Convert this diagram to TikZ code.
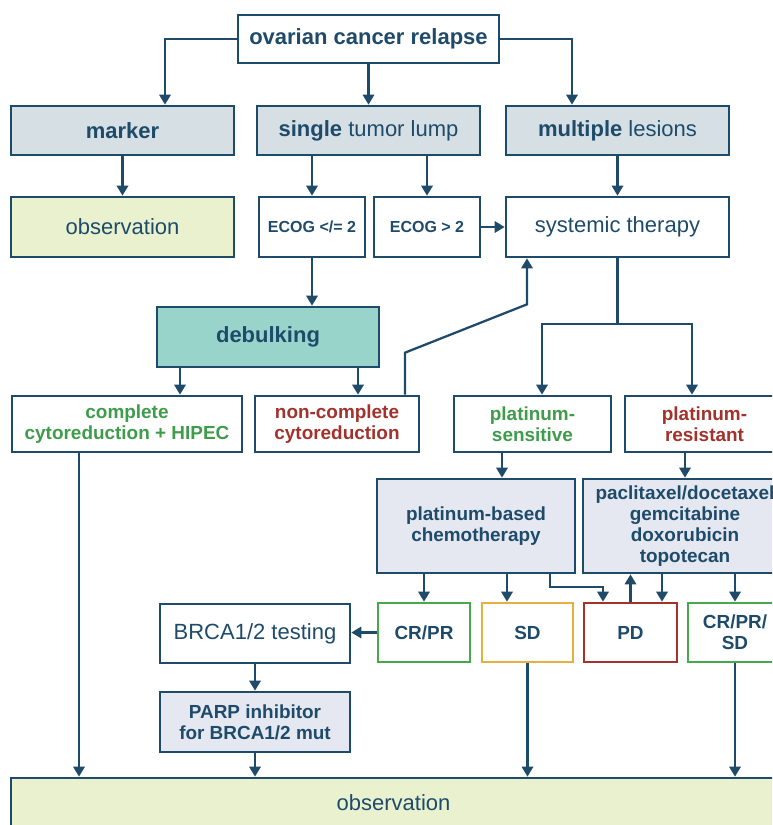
\documentclass[tikz,border=0pt]{standalone}
\usepackage{fontspec}
\setmainfont{Liberation Sans}
\usetikzlibrary{arrows.meta,calc}

\definecolor{navy}{HTML}{1F4B6B}
\definecolor{greybox}{HTML}{D5DFE4}
\definecolor{obsfill}{HTML}{EAF1CF}
\definecolor{tealbox}{HTML}{99D4CB}
\definecolor{lavbox}{HTML}{E5E8F0}
\definecolor{okgreen}{HTML}{3E9C4B}
\definecolor{okframe}{HTML}{47A94B}
\definecolor{badred}{HTML}{A3322C}
\definecolor{sdorange}{HTML}{E6AF42}

\tikzset{
  box/.style={draw=navy, line width=2pt, fill=white, text=navy, align=center, inner sep=0pt},
  wh/.style 2 args={minimum width=#1*0.75pt, minimum height=#2*0.75pt},
  big/.style={font=\fontsize{16.5}{19.8}\selectfont},
  med/.style={font=\bfseries\fontsize{14.2}{15.8}\selectfont},
  small/.style={font=\bfseries\fontsize{12}{14}\selectfont},
  line/.style={draw=navy, line width=1.7pt},
  arr/.style={line, -{Triangle[length=7.5pt,width=8.5pt]}},
}

\begin{document}
\begin{tikzpicture}[x=0.75pt, y=-0.75pt]
  \useasboundingbox (0,0) rectangle (772,825);
  \clip (0,0) rectangle (772,825);

  % first levels
  \node[box, wh={261}{48}, font=\bfseries\fontsize{16.5}{19.8}\selectfont] (relapse) at (368.5,39) {ovarian cancer relapse};
  \node[box, big, wh={223}{49}, fill=greybox] (marker) at (122.5,130.5) {\textbf{marker}};
  \node[box, big, wh={223}{49}, fill=greybox] (single) at (368.5,130.5) {\textbf{single} tumor lump};
  \node[box, big, wh={223}{49}, fill=greybox] (multiple) at (617.5,130.5) {\textbf{multiple} lesions};

  \node[box, big, wh={223}{60}, fill=obsfill] (obsTop) at (122.5,227) {observation};
  \node[box, small, wh={106}{60}] (ecogLow) at (312,227) {ECOG </= 2};
  \node[box, small, wh={106}{60}] (ecogHigh) at (427,227) {ECOG > 2};
  \node[box, big, wh={223}{60}] (systemic) at (617.5,227) {systemic therapy};

  \node[box, big, wh={222}{60}, fill=tealbox] (debulking) at (268,337) {\textbf{debulking}};

  \node[box, med, wh={230}{56}, text=okgreen] (complete) at (127,424) {complete\\cytoreduction + HIPEC};
  \node[box, med, wh={164}{56}, text=badred] (noncomplete) at (337,424) {non-complete\\cytoreduction};
  \node[box, med, wh={157}{56}, text=okgreen] (sensitive) at (532.5,424) {platinum-\\sensitive};
  \node[box, med, wh={159}{56}, text=badred] (resistant) at (704.5,424) {platinum-\\resistant};

  \node[box, med, wh={198}{94}, fill=lavbox] (chemo) at (476,526) {platinum-based\\chemotherapy};
  \node[box, med, wh={204}{94}, fill=lavbox] (drugs) at (685,526) {paclitaxel/docetaxel\\gemcitabine\\doxorubicin\\topotecan};

  \node[box, med, wh={92}{59}, draw=okframe] (crpr) at (424,632.5) {CR/PR};
  \node[box, med, wh={91}{59}, draw=sdorange] (sd) at (527.5,632.5) {SD};
  \node[box, med, wh={93}{59}, draw=badred] (pd) at (630.5,632.5) {PD};
  \node[box, med, wh={94}{59}, draw=okframe] (crprsd) at (735,632.5) {CR/PR/\\SD};

  \node[box, big, wh={190}{59}] (brca) at (255,633.5) {BRCA1/2 testing};
  \node[box, med, wh={190}{60}, fill=lavbox] (parp) at (255,722) {PARP inhibitor\\for BRCA1/2 mut};

  \node[box, big, wh={765}{50}, fill=obsfill] (obsBottom) at (393.5,803) {observation};

  % connector points
  \coordinate (markerIn) at ($(marker.north)+(42.5,0)$);
  \coordinate (multipleIn) at ($(multiple.north)+(-45.5,0)$);
  \coordinate (debLeft) at ($(debulking.south)+(-88,0)$);
  \coordinate (debRight) at ($(debulking.south)+(90,0)$);
  \coordinate (ncOut) at ($(noncomplete.north)+(68,0)$);
  \coordinate (sysIn) at ($(systemic.south)+(-90.5,0)$);
  \coordinate (split) at ($(systemic.south)+(0,66)$);
  \coordinate (sensIn) at ($(sensitive.north)+(9.5,0)$);
  \coordinate (resIn) at ($(resistant.north)+(-12.5,0)$);
  \coordinate (sensOut) at ($(sensitive.south)+(-30.5,0)$);
  \coordinate (sdIn) at ($(sd.north)+(-20.5,0)$);
  \coordinate (chemoOut) at ($(chemo.south)+(74,0)$);
  \coordinate (pdLeft) at ($(pd.north)+(-27.5,0)$);
  \coordinate (pdRight) at ($(pd.north)+(31.5,0)$);
  \coordinate (compOut) at ($(complete.south)+(-48,0)$);

  % connectors
  \draw[arr] (relapse.west) -| (markerIn);
  \draw[arr] (relapse.south) -- (single.north);
  \draw[arr] (relapse.east) -| (multipleIn);

  \draw[arr] (marker.south) -- (obsTop.north);
  \draw[arr] (single.south -| ecogLow.north) -- (ecogLow.north);
  \draw[arr] (single.south -| ecogHigh.north) -- (ecogHigh.north);
  \draw[arr] (multiple.south) -- (systemic.north);
  \draw[arr] (ecogHigh.east) -- (systemic.west);

  \draw[arr] (ecogLow.south) -- (ecogLow.south |- debulking.north);
  \draw[arr] (debLeft) -- (debLeft |- complete.north);
  \draw[arr] (debRight) -- (debRight |- noncomplete.north);
  \draw[arr] (ncOut) -- ++(0,-42) -- ($(sysIn)+(0,46)$) -- (sysIn);

  \draw[line] (systemic.south) -- (split);
  \draw[arr] (split) -| (sensIn);
  \draw[arr] (split) -| (resIn);

  \draw[arr] (sensOut) -- (sensOut |- chemo.north);
  \draw[arr] (resistant.south -| drugs.north) -- (drugs.north);

  \draw[arr] (chemo.south -| crpr.north) -- (crpr.north);
  \draw[arr] (sdIn |- chemo.south) -- (sdIn);
  \draw[arr] (chemoOut) -- ++(0,13) -| (pdLeft);
  \draw[arr] (pd.north) -- (pd.north |- drugs.south);
  \draw[arr] (pdRight |- drugs.south) -- (pdRight);
  \draw[arr] (drugs.south -| crprsd.north) -- (crprsd.north);

  \draw[arr] (crpr.west) -- (crpr.west -| brca.east);
  \draw[arr] (brca.south) -- (parp.north);

  \draw[arr] (compOut) -- (compOut |- obsBottom.north);
  \draw[arr] (parp.south) -- (parp.south |- obsBottom.north);
  \draw[arr] (sd.south) -- (sd.south |- obsBottom.north);
  \draw[arr] (crprsd.south) -- (crprsd.south |- obsBottom.north);
\end{tikzpicture}
\end{document}
